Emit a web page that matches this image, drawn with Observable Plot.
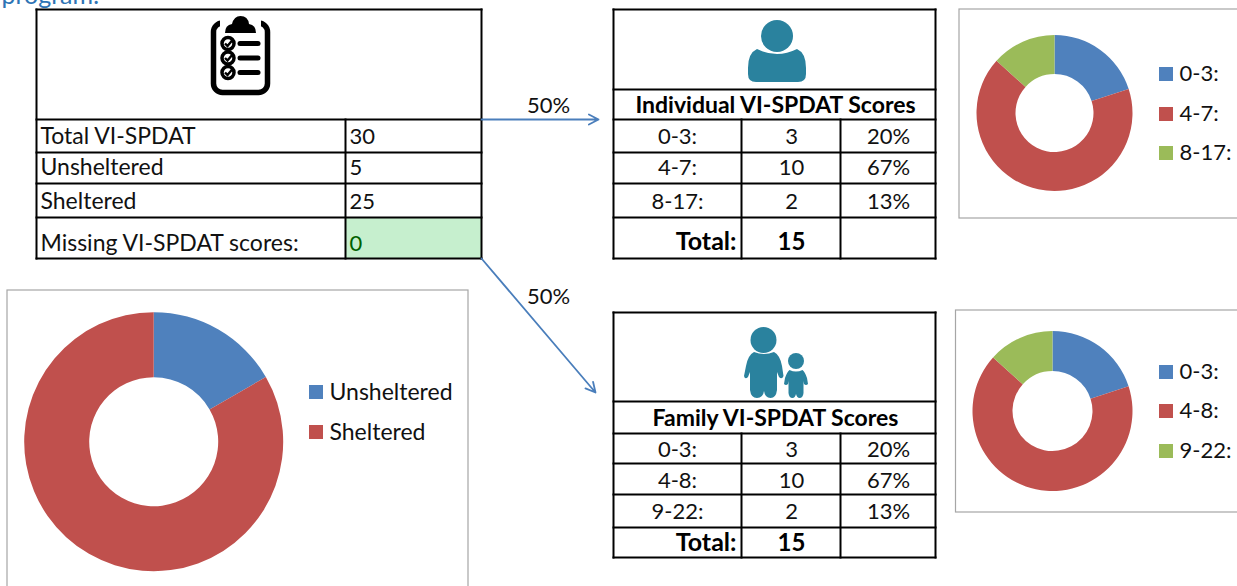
<!DOCTYPE html>
<html>
<head>
<meta charset="utf-8">
<script src="https://cdn.jsdelivr.net/npm/d3@7"></script>
<script src="https://cdn.jsdelivr.net/npm/@observablehq/plot@0.6"></script>
<style>html,body{margin:0;padding:0;background:#fff;overflow:hidden}</style>
</head>
<body>
<script>
// ---- data ----
const clippedHeading = "program:";
const overviewLabels = ["Total VI-SPDAT", "Unsheltered", "Sheltered", "Missing VI-SPDAT scores:"];
const overviewValues = [30, 5, 25, 0];
const individualTitle = "Individual VI-SPDAT Scores";
const individualRanges = ["0-3:", "4-7:", "8-17:"];
const individualCounts = [3, 10, 2];
const individualPct = ["20%", "67%", "13%"];
const individualTotal = 15;
const familyTitle = "Family VI-SPDAT Scores";
const familyRanges = ["0-3:", "4-8:", "9-22:"];
const familyCounts = [3, 10, 2];
const familyPct = ["20%", "67%", "13%"];
const familyTotal = 15;
const shelterLabels = ["Unsheltered", "Sheltered"];
const shelterValues = [5, 25];
const splitLabel = "50%";

// ---- layout and style ----
const W = 1237, H = 586, FONT = "Lato, 'Noto Sans', sans-serif", FS = 23, FSN = 22;
const sliceColors = ["#4f81bd", "#c0504d", "#9bbb59"];
const TEAL = "#2a829e", ARROW = "#4a7ebb";
const gridA = {x1: 36, x2: 481, cols: [345], rows: [9, 119, 152, 183, 217, 258], colFrom: 1};
const gridB = {x1: 613, x2: 935, cols: [741, 840], rows: [9, 89, 119, 152, 183, 217, 258], colFrom: 2};
const gridC = {x1: 613, x2: 935, cols: [741, 840], rows: [312, 401, 433, 463, 494, 527, 557], colFrom: 2};
const gridLines = g => [
  ...g.rows.map(y => ({x1: g.x1, x2: g.x2, y1: y, y2: y})),
  {x1: g.x1, x2: g.x1, y1: g.rows[0], y2: g.rows[g.rows.length - 1]},
  {x1: g.x2, x2: g.x2, y1: g.rows[0], y2: g.rows[g.rows.length - 1]},
  ...g.cols.map(x => ({x1: x, x2: x, y1: g.rows[g.colFrom], y2: g.rows[g.rows.length - 1]}))
];
const lines = [...gridLines(gridA), ...gridLines(gridB), ...gridLines(gridC)];

const boxes = [
  {x1: 959, x2: 1245, y1: 9, y2: 218},
  {x1: 955.5, x2: 1245, y1: 310, y2: 512},
  {x1: 7, x2: 468, y1: 290, y2: 600}
];
const donuts = [
  {cx: 1054.5, cy: 113, r: 78, r0: 39, values: individualCounts},
  {cx: 1052.5, cy: 411, r: 80, r0: 40, values: familyCounts},
  {cx: 153.7, cy: 441.7, r: 129.5, r0: 64.5, values: shelterValues}
];
const legendRanges = [
  ...individualRanges.map((t, i) => ({t, i, x: 1159, y: [67, 107, 146][i]})),
  ...familyRanges.map((t, i) => ({t, i, x: 1159, y: [365, 404, 444][i]}))
];
const legendShelter = shelterLabels.map((t, i) => ({t, i, x: 309, y: [385, 425][i]}));
const legendRows = [...legendRanges, ...legendShelter];

// table text rows
const rowsA = [136.5, 167.5, 201.5, 243.5];
const rowsB = [136, 167, 201];
const rowsC = [449, 480, 511];

const leftTexts = overviewLabels.map((t, i) => ({t, x: 40, y: rowsA[i], fill: "#111"}));
const valueTexts = overviewValues.map((v, i) => ({t: String(v), x: 349, y: rowsA[i] - 0.5, fill: i === 3 ? "#006100" : "#111"}));
const centered = [
  ...individualRanges.map((t, i) => ({t, x: 677, y: rowsB[i]})),
  ...individualCounts.map((t, i) => ({t: String(t), x: 791, y: rowsB[i]})),
  ...individualPct.map((t, i) => ({t, x: 888, y: rowsB[i]})),
  ...familyRanges.map((t, i) => ({t, x: 677, y: rowsC[i]})),
  ...familyCounts.map((t, i) => ({t: String(t), x: 791, y: rowsC[i]})),
  ...familyPct.map((t, i) => ({t, x: 888, y: rowsC[i]})),
  {t: splitLabel, x: 548, y: 105},
  {t: splitLabel, x: 548, y: 296}
];
const boldTitles = [
  {t: individualTitle, x: 775, y: 105.5},
  {t: familyTitle, x: 775, y: 418}
];
const boldTotals = [
  {t: String(individualTotal), x: 791, y: 241.5},
  {t: String(familyTotal), x: 791, y: 542.5}
];
const boldRight = [{t: "Total:", x: 736, y: 241.5}, {t: "Total:", x: 736, y: 542.5}];
const arrows = [
  {x1: 481, y1: 119, x2: 598, y2: 119},
  {x1: 481, y1: 258, x2: 595, y2: 392}
];

function donutMark(index, {x, y}) {
  const g = d3.create("svg:g");
  for (const d of donuts) {
    const px = x(d.cx + d.r) - x(d.cx), px0 = x(d.cx + d.r0) - x(d.cx);
    const arc = d3.arc().innerRadius(px0).outerRadius(px);
    const arcs = d3.pie().sort(null)(d.values);
    g.append("g").attr("transform", `translate(${x(d.cx)},${y(d.cy)})`)
      .selectAll("path").data(arcs).join("path")
      .attr("d", arc).attr("fill", (_, i) => sliceColors[i]);
  }
  return g.node();
}

function iconMark(index, {x, y}) {
  const g = d3.create("svg:g");
  const t = g.append("g").attr("transform", `translate(${x(0)},${y(0)})`);
  // clipboard
  t.append("rect").attr("x", 213.5).attr("y", 23).attr("width", 54).attr("height", 69.5).attr("rx", 9)
    .attr("fill", "#fff").attr("stroke", "#000").attr("stroke-width", 5.5);
  t.append("rect").attr("x", 220).attr("y", 18).attr("width", 41).attr("height", 9).attr("fill", "#fff");
  t.append("path").attr("fill", "#000")
    .attr("d", "M225,33 Q225,25 232,24 Q234,16 240.5,16 Q248,16 249,24 Q256,25 256,33 Z");
  for (const cy of [43.5, 58, 72.5]) {
    t.append("circle").attr("cx", 228).attr("cy", cy).attr("r", 6)
      .attr("fill", "#fff").attr("stroke", "#000").attr("stroke-width", 3.5);
    t.append("path").attr("d", `M225,${cy} L227.5,${cy + 2.5} L232.5,${cy - 3.5}`)
      .attr("fill", "none").attr("stroke", "#000").attr("stroke-width", 2.4);
    t.append("line").attr("x1", 240).attr("x2", 258).attr("y1", cy).attr("y2", cy)
      .attr("stroke", "#000").attr("stroke-width", 5).attr("stroke-linecap", "round");
  }
  // person
  t.append("circle").attr("cx", 777).attr("cy", 36).attr("r", 16).attr("fill", TEAL);
  t.append("path").attr("fill", TEAL)
    .attr("d", "M757,49 Q777,59 797,49 Q806,53 806,68 L806,74 Q806,82 798,82 L756,82 Q748,82 748,74 L748,68 Q748,53 757,49 Z");
  // adult
  t.append("circle").attr("cx", 763.5).attr("cy", 340).attr("r", 13).attr("fill", TEAL);
  t.append("path").attr("fill", TEAL)
    .attr("d", "M754,352 Q764,356 774,352 Q780,355 782,366 L783.5,376 Q782,380 779,377 L777,372 L777,390 Q776,398 770.5,398 Q765,398 764,391 Q763,398 757,398 Q751,398 750,390 L750,372 L748,377 Q745,380 744,376 L746,366 Q748,355 754,352 Z");
  // child
  t.append("circle").attr("cx", 796).attr("cy", 361).attr("r", 8).attr("fill", TEAL);
  t.append("path").attr("fill", TEAL)
    .attr("d", "M789.5,370 Q796,373 802.5,370 Q805,372 807,378 L808,384 Q806,386 804,384 L803.5,381 L803.5,393 Q803,398 799.5,398 Q797,398 796,394 Q795,398 792.5,398 Q789,398 788.5,393 L788.5,381 L788,384 Q786,386 784,384 L785,378 Q787,372 789.5,370 Z");
  return g.node();
}

const txt = {fontFamily: FONT, fontSize: FS, lineAnchor: "middle"};
const num = {fontFamily: FONT, fontSize: FSN, lineAnchor: "middle"};
const chart = Plot.plot({
  width: W, height: H, margin: 0,
  x: {domain: [0, W], range: [0, W], axis: null},
  y: {domain: [0, H], range: [0, H], axis: null},
  style: {background: "#fff"},
  marks: [
    Plot.text([clippedHeading], {x: 1, y: -5, text: d => d, textAnchor: "start", fill: "#2e74b5", fontFamily: FONT, fontSize: 25, lineAnchor: "middle"}),
    Plot.rect(boxes, {x1: "x1", x2: "x2", y1: "y1", y2: "y2", fill: "#fff", stroke: "#a6a6a6", strokeWidth: 1.2}),
    donutMark,
    Plot.rect([{x1: 346, x2: 481, y1: 218, y2: 258}], {x1: "x1", x2: "x2", y1: "y1", y2: "y2", fill: "#c6efce"}),
    Plot.link(lines, {x1: "x1", x2: "x2", y1: "y1", y2: "y2", stroke: "#000", strokeWidth: 2, strokeLinecap: "square"}),
    iconMark,
    Plot.arrow(arrows, {x1: "x1", y1: "y1", x2: "x2", y2: "y2", stroke: ARROW, strokeWidth: 1.8, headLength: 9, headAngle: 55, bend: 0}),
    Plot.rect(legendRows, {x1: "x", x2: d => d.x + 14, y1: "y", y2: d => d.y + 14, fill: d => sliceColors[d.i]}),
    Plot.text(legendRanges, {x: d => d.x + 20, y: d => d.y + 6.5, text: "t", textAnchor: "start", fill: "#111", ...num}),
    Plot.text(legendShelter, {x: d => d.x + 20, y: d => d.y + 7, text: "t", textAnchor: "start", fill: "#111", ...txt}),
    Plot.text(leftTexts, {x: "x", y: "y", text: "t", textAnchor: "start", fill: "fill", ...txt}),
    Plot.text(valueTexts, {x: "x", y: "y", text: "t", textAnchor: "start", fill: "fill", ...num}),
    Plot.text(centered, {x: "x", y: "y", text: "t", textAnchor: "middle", fill: "#111", ...num}),
    Plot.text(boldTitles, {x: "x", y: "y", text: "t", textAnchor: "middle", fill: "#000", fontWeight: 700, ...txt}),
    Plot.text(boldTotals, {x: "x", y: "y", text: "t", textAnchor: "middle", fill: "#000", fontWeight: 700, ...txt, fontSize: 24}),
    Plot.text(boldRight, {x: "x", y: "y", text: "t", textAnchor: "end", fill: "#000", fontWeight: 700, ...txt, fontSize: 25})
  ]
});
document.body.append(chart);
</script>
</body>
</html>
